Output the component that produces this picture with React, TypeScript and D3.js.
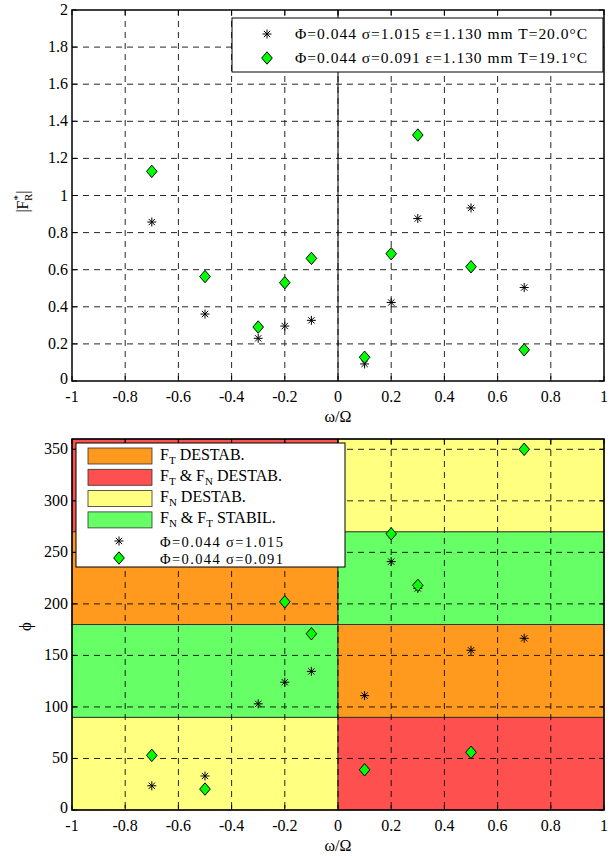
import React from "react";
import * as d3 from "d3";

const xTicks = [-1, -0.8, -0.6, -0.4, -0.2, 0, 0.2, 0.4, 0.6, 0.8, 1];
const xTickLabels = ["-1", "-0.8", "-0.6", "-0.4", "-0.2", "0", "0.2", "0.4", "0.6", "0.8", "1"];
const yTicksTop = [0, 0.2, 0.4, 0.6, 0.8, 1, 1.2, 1.4, 1.6, 1.8, 2];
const yTickLabelsTop = ["0", "0.2", "0.4", "0.6", "0.8", "1", "1.2", "1.4", "1.6", "1.8", "2"];
const yTicksBot = [0, 50, 100, 150, 200, 250, 300, 350];

const freqStar = [-0.7, -0.5, -0.3, -0.2, -0.1, 0.1, 0.2, 0.3, 0.5, 0.7];
const ampStar = [0.857, 0.361, 0.23, 0.296, 0.327, 0.092, 0.423, 0.876, 0.933, 0.504];
const freqDia = [-0.7, -0.5, -0.3, -0.2, -0.1, 0.1, 0.2, 0.3, 0.5, 0.7];
const ampDia = [1.13, 0.563, 0.291, 0.53, 0.661, 0.128, 0.686, 1.326, 0.616, 0.168];

const phaseStarX = [-0.7, -0.5, -0.3, -0.2, -0.1, 0.1, 0.2, 0.3, 0.5, 0.7];
const phaseStar = [23.5, 33, 103, 124, 134.5, 111, 241, 215, 155, 166.6];
const phaseDiaX = [-0.7, -0.5, -0.2, -0.1, 0.1, 0.2, 0.3, 0.5, 0.7];
const phaseDia = [53, 20.3, 202, 171, 39, 268, 218, 56, 350];

// stability regions
const regX0 = [-1, -1, -1, -1, 0, 0, 0, 0];
const regX1 = [0, 0, 0, 0, 1, 1, 1, 1];
const regY0 = [0, 90, 180, 270, 0, 90, 180, 270];
const regY1 = [90, 180, 270, 360, 90, 180, 270, 360];
const regCat = [2, 3, 0, 1, 1, 0, 3, 2];
const catColors = ["#FF9A1E", "#FF5050", "#FFFF80", "#66FF66"];

const legendTop = [
  "Φ=0.044 σ=1.015 ε=1.130 mm T=20.0°C",
  "Φ=0.044 σ=0.091 ε=1.130 mm T=19.1°C",
];
const legendBotSeries = ["Φ=0.044 σ=1.015", "Φ=0.044 σ=0.091"];

const FONT = "'Liberation Serif', 'Times New Roman', serif";

const L = 72, R = 604;
const T1 = 10, B1 = 381;
const T2 = 439, B2 = 810;

const x = d3.scaleLinear().domain([-1, 1]).range([L, R]);
const y1 = d3.scaleLinear().domain([0, 2]).range([B1, T1]);
const y2 = d3.scaleLinear().domain([0, 360]).range([B2, T2]);

function Star({ cx, cy }: { cx: number; cy: number }) {
  const r = 4.5;
  const d = r * 0.7;
  return (
    <g stroke="#000" strokeWidth={1}>
      <line x1={cx - r} y1={cy} x2={cx + r} y2={cy} />
      <line x1={cx} y1={cy - r} x2={cx} y2={cy + r} />
      <line x1={cx - d} y1={cy - d} x2={cx + d} y2={cy + d} />
      <line x1={cx - d} y1={cy + d} x2={cx + d} y2={cy - d} />
    </g>
  );
}

function Diamond({ cx, cy }: { cx: number; cy: number }) {
  const w = 5.3, h = 6.2;
  return (
    <path
      d={`M${cx},${cy - h}L${cx + w},${cy}L${cx},${cy + h}L${cx - w},${cy}Z`}
      fill="#00FF00"
      stroke="#000"
      strokeWidth={1}
    />
  );
}

function Grid({ yScale, yTicks, top, bottom }: any) {
  return (
    <g stroke="#000" strokeWidth={1} strokeDasharray="6,5" opacity={0.85}>
      {xTicks.slice(1, -1).map((t, i) => (
        <line key={"gx" + i} x1={x(t)} x2={x(t)} y1={top} y2={bottom} />
      ))}
      {yTicks.filter((t: number) => yScale(t) > top + 1 && yScale(t) < bottom - 1).map((t: number, i: number) => (
        <line key={"gy" + i} x1={L} x2={R} y1={yScale(t)} y2={yScale(t)} />
      ))}
    </g>
  );
}

function Frame({ yScale, yTicks, yLabels, top, bottom }: any) {
  const tl = 5;
  return (
    <g>
      <g stroke="#000" strokeWidth={1}>
        {xTicks.map((t, i) => (
          <g key={"tx" + i}>
            <line x1={x(t)} x2={x(t)} y1={bottom} y2={bottom - tl} />
            <line x1={x(t)} x2={x(t)} y1={top} y2={top + tl} />
          </g>
        ))}
        {yTicks.map((t: number, i: number) => (
          <g key={"ty" + i}>
            <line x1={L} x2={L + tl} y1={yScale(t)} y2={yScale(t)} />
            <line x1={R} x2={R - tl} y1={yScale(t)} y2={yScale(t)} />
          </g>
        ))}
      </g>
      <rect x={L} y={top} width={R - L} height={bottom - top} fill="none" stroke="#000" strokeWidth={1.5} />
      <g fontFamily={FONT} fontSize={16} fill="#000">
        {xTicks.map((t, i) => (
          <text key={"lx" + i} x={x(t)} y={bottom + 21} textAnchor="middle">
            {xTickLabels[i]}
          </text>
        ))}
        {yTicks.map((t: number, i: number) => (
          <text key={"ly" + i} x={L - 4} y={yScale(t) + (i === 0 ? 3 : 5)} textAnchor="end">
            {yLabels[i]}
          </text>
        ))}
        <text x={x(0)} y={bottom + 41} textAnchor="middle">ω/Ω</text>
      </g>
    </g>
  );
}

export default function App() {
  return (
    <svg width={613} height={856} style={{ position: "absolute", left: 0, top: 0, background: "#fff" }}>
      <rect width={613} height={856} fill="#fff" />
      {/* ---------- Top plot ---------- */}
      <Grid yScale={y1} yTicks={yTicksTop} top={T1} bottom={B1} />
      <line x1={x(0)} x2={x(0)} y1={T1} y2={B1} stroke="#000" strokeWidth={1} />
      <Frame yScale={y1} yTicks={yTicksTop} yLabels={yTickLabelsTop} top={T1} bottom={B1} />
      {freqStar.map((f, i) => (
        <Star key={"s1" + i} cx={x(f)} cy={y1(ampStar[i])} />
      ))}
      {freqDia.map((f, i) => (
        <Diamond key={"d1" + i} cx={x(f)} cy={y1(ampDia[i])} />
      ))}
      <text
        transform={`translate(28,${(T1 + B1) / 2 + 6}) rotate(-90)`}
        fontFamily={FONT}
        fontSize={16}
        textAnchor="middle"
      >
        |F<tspan dy={-7} fontSize={11}>*</tspan>
        <tspan dx={-6} dy={11} fontSize={11}>R</tspan>
        <tspan dy={-4}>|</tspan>
      </text>
      {/* top legend */}
      <rect x={232} y={18} width={371} height={54} fill="#fff" stroke="#000" strokeWidth={1} />
      <Star cx={267} cy={34} />
      <Diamond cx={267} cy={58} />
      <g fontFamily={FONT} fontSize={15.5}>
        <text x={295} y={39} textLength={292} lengthAdjust="spacing">{legendTop[0]}</text>
        <text x={295} y={63} textLength={292} lengthAdjust="spacing">{legendTop[1]}</text>
      </g>

      {/* ---------- Bottom plot ---------- */}
      {regX0.map((_, i) => (
        <rect
          key={"reg" + i}
          x={x(regX0[i])}
          y={y2(regY1[i])}
          width={x(regX1[i]) - x(regX0[i])}
          height={y2(regY0[i]) - y2(regY1[i])}
          fill={catColors[regCat[i]]}
          stroke="#222"
          strokeWidth={0.8}
        />
      ))}
      <Grid yScale={y2} yTicks={yTicksBot} top={T2} bottom={B2} />
      <Frame yScale={y2} yTicks={yTicksBot} yLabels={yTicksBot.map(String)} top={T2} bottom={B2} />
      {phaseStarX.map((f, i) => (
        <Star key={"s2" + i} cx={x(f)} cy={y2(phaseStar[i])} />
      ))}
      {phaseDiaX.map((f, i) => (
        <Diamond key={"d2" + i} cx={x(f)} cy={y2(phaseDia[i])} />
      ))}
      <text
        transform={`translate(31,${(T2 + B2) / 2 + 2}) rotate(-90)`}
        fontFamily={FONT}
        fontSize={17}
        textAnchor="middle"
      >
        ϕ
      </text>
      {/* bottom legend */}
      <rect x={76} y={443} width={269} height={124} fill="#fff" stroke="#000" strokeWidth={1} />
      {[0, 1, 2, 3].map((c) => (
        <rect key={"lp" + c} x={88} y={448 + c * 21.3} width={64} height={16} fill={catColors[c]} stroke="#333" strokeWidth={0.8} />
      ))}
      <g fontFamily={FONT} fontSize={16}>
        <text x={160} y={460}>F<tspan fontSize={11} dy={4}>T</tspan><tspan dy={-4}> DESTAB.</tspan></text>
        <text x={160} y={481}>F<tspan fontSize={11} dy={4}>T</tspan><tspan dy={-4}> &amp; F</tspan><tspan fontSize={11} dy={4}>N</tspan><tspan dy={-4}> DESTAB.</tspan></text>
        <text x={160} y={502}>F<tspan fontSize={11} dy={4}>N</tspan><tspan dy={-4}> DESTAB.</tspan></text>
        <text x={160} y={523}>F<tspan fontSize={11} dy={4}>N</tspan><tspan dy={-4}> &amp; F</tspan><tspan fontSize={11} dy={4}>T</tspan><tspan dy={-4}> STABIL.</tspan></text>
      </g>
      <g fontFamily={FONT} fontSize={14.5}>
        <text x={160} y={547} textLength={123} lengthAdjust="spacing">{legendBotSeries[0]}</text>
        <text x={160} y={564} textLength={123} lengthAdjust="spacing">{legendBotSeries[1]}</text>
      </g>
      <Star cx={119} cy={541} />
      <Diamond cx={119} cy={558} />
    </svg>
  );
}
